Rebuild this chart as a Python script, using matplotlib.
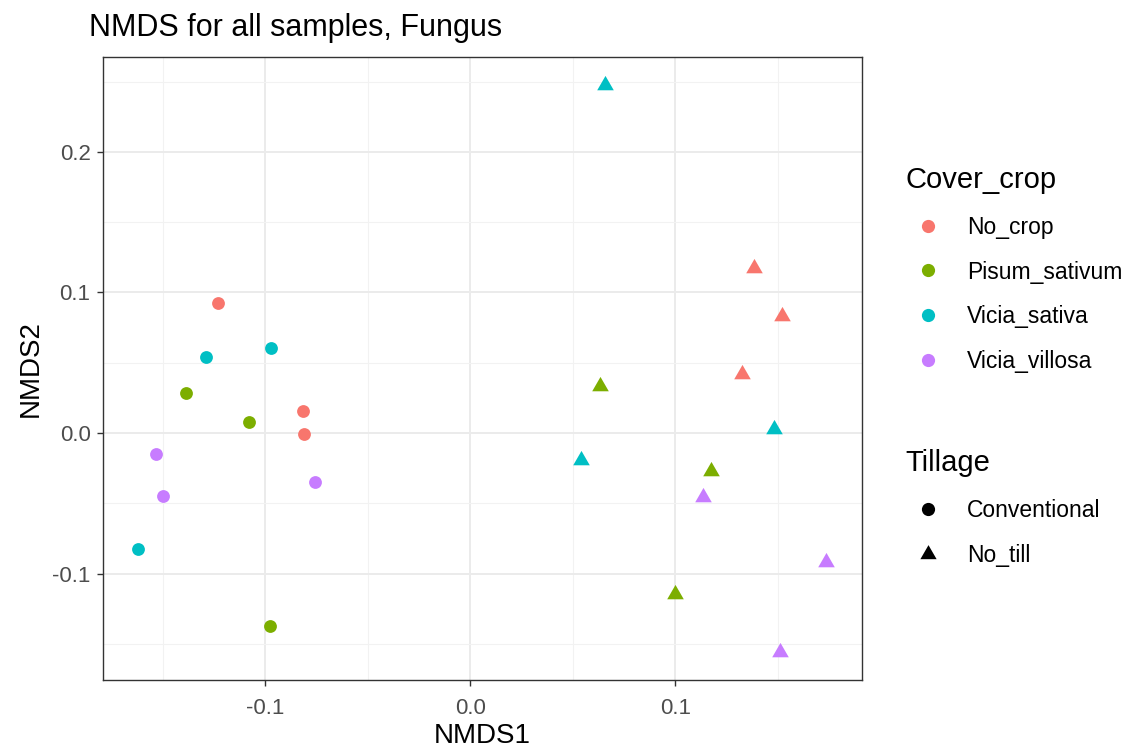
import numpy as np
import matplotlib
matplotlib.use("Agg")
import matplotlib.pyplot as plt
from matplotlib.lines import Line2D

plt.rcParams['font.family'] = ['Liberation Sans', 'DejaVu Sans']

# 各组的 NMDS 坐标 (Conventional = 圆点, No_till = 三角)
crops = ["No_crop", "Pisum_sativum", "Vicia_sativa", "Vicia_villosa"]
colors = ["#F8766D", "#7CAE00", "#00BFC4", "#C77CFF"]

conv_x = {
    "No_crop": [-0.123, -0.0815, -0.081],
    "Pisum_sativum": [-0.1385, -0.1078, -0.0976],
    "Vicia_sativa": [-0.129, -0.097, -0.162],
    "Vicia_villosa": [-0.153, -0.150, -0.0756],
}
conv_y = {
    "No_crop": [0.0925, 0.0157, -0.001],
    "Pisum_sativum": [0.0285, 0.0078, -0.137],
    "Vicia_sativa": [0.054, 0.0605, -0.0826],
    "Vicia_villosa": [-0.015, -0.045, -0.035],
}
notill_x = {
    "No_crop": [0.1385, 0.152, 0.1327],
    "Pisum_sativum": [0.0634, 0.1176, 0.100],
    "Vicia_sativa": [0.0659, 0.054, 0.148],
    "Vicia_villosa": [0.1137, 0.1737, 0.151],
}
notill_y = {
    "No_crop": [0.1174, 0.0833, 0.042],
    "Pisum_sativum": [0.0335, -0.027, -0.1146],
    "Vicia_sativa": [0.248, -0.019, 0.003],
    "Vicia_villosa": [-0.0455, -0.092, -0.156],
}

# 等边三角形 (ggplot 的 pch 17)
tri = [(0, 0.577), (-0.5, -0.289), (0.5, -0.289), (0, 0.577)]

fig = plt.figure(figsize=(11.3, 7.51), dpi=100)
ax = fig.add_axes([0.0912, 0.0945, 0.6716, 0.8296])

for crop, c in zip(crops, colors):
    ax.scatter(conv_x[crop], conv_y[crop], marker="o", s=85, color=c, linewidths=0, zorder=3)
    ax.scatter(notill_x[crop], notill_y[crop], marker=tri, s=190, color=c, linewidths=0, zorder=3)

ax.set_xlim(-0.179, 0.191)
ax.set_ylim(-0.1758, 0.2676)
ax.set_xticks([-0.1, 0.0, 0.1])
ax.set_xticklabels(["-0.1", "0.0", "0.1"])
ax.set_yticks([-0.1, 0.0, 0.1, 0.2])
ax.set_yticklabels(["-0.1", "0.0", "0.1", "0.2"])
ax.set_xticks([-0.15, -0.05, 0.05, 0.15], minor=True)
ax.set_yticks([-0.15, -0.05, 0.05, 0.15, 0.25], minor=True)
ax.grid(True, which="major", color="#EBEBEB", linewidth=1.4, zorder=0)
ax.grid(True, which="minor", color="#F2F2F2", linewidth=0.8, zorder=0)
ax.set_axisbelow(True)
ax.tick_params(which="major", length=4, width=1, color="#333333", labelsize=16,
               labelcolor="#4D4D4D")
ax.tick_params(axis="x", which="major", pad=9)
ax.tick_params(axis="y", which="major", pad=5)
ax.tick_params(which="minor", length=0)
for s in ax.spines.values():
    s.set_color("#333333")
    s.set_linewidth(1.0)

ax.set_xlabel("NMDS1", fontsize=20, labelpad=3)
ax.set_ylabel("NMDS2", fontsize=20, labelpad=6)
ax.set_title("NMDS for all samples, Fungus", fontsize=22, loc="left", x=-0.018, pad=15)

h1 = [Line2D([], [], marker="o", linestyle="", color=c, markersize=9.5, markeredgewidth=0)
      for c in colors]
leg1 = fig.legend(h1, crops, title="Cover_crop", loc="upper left",
                  bbox_to_anchor=(0.801, 0.779), frameon=False, fontsize=16.5,
                  title_fontsize=21, labelspacing=0.95, handletextpad=0.7,
                  borderaxespad=0, borderpad=0)
leg1._legend_box.align = "left"
leg1._legend_box._children[0].sep = 0
h2 = [Line2D([], [], marker=m, linestyle="", color="black", markersize=ms, markeredgewidth=0)
      for m, ms in [("o", 9.5), (tri, 13.5)]]
leg2 = fig.legend(h2, ["Conventional", "No_till"], title="Tillage", loc="upper left",
                  bbox_to_anchor=(0.801, 0.402), frameon=False, fontsize=16.5,
                  title_fontsize=21, labelspacing=0.95, handletextpad=0.7,
                  borderaxespad=0, borderpad=0)
leg2._legend_box.align = "left"

fig.savefig("out.png", dpi=100)
